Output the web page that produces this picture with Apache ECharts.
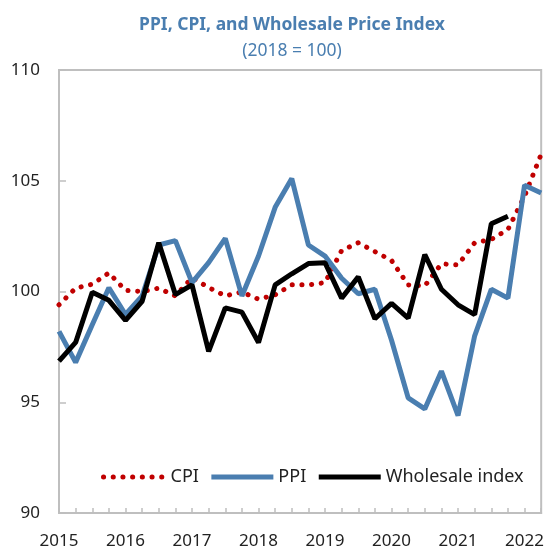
<!DOCTYPE html>
<html>
<head>
<meta charset="utf-8">
<script src="https://cdn.jsdelivr.net/npm/echarts@6/dist/echarts.min.js"></script>
<style>
html,body{margin:0;padding:0;background:#fff;}
#chart{width:547px;height:550px;}
</style>
</head>
<body>
<div id="chart"></div>
<script>
// Quarterly observations, 2015Q1 .. 2022Q2 (index 0..29)
const quarterIndex = [0,1,2,3,4,5,6,7,8,9,10,11,12,13,14,15,16,17,18,19,20,21,22,23,24,25,26,27,28,29];
const yearLabels = ['2015','2016','2017','2018','2019','2020','2021','2022'];
const cpi = [99.4,100.15,100.33,100.84,100.05,100.0,100.15,99.8,100.62,100.18,99.8,99.98,99.65,99.85,100.3,100.3,100.4,101.85,102.2,101.8,101.4,100.3,100.25,101.25,101.2,102.2,102.35,102.8,104.3,106.2];
const ppi = [98.2,96.8,98.5,100.17,98.96,99.8,102.1,102.3,100.4,101.3,102.4,99.8,101.6,103.8,105.1,102.1,101.6,100.6,99.9,100.1,97.8,95.2,94.7,96.4,94.4,98.0,100.1,99.7,104.8,104.45];
const wholesale = [96.86,97.7,99.97,99.6,98.7,99.56,102.2,99.86,100.3,97.3,99.26,99.07,97.7,100.3,100.8,101.26,101.3,99.7,100.66,98.77,99.46,98.8,101.67,100.1,99.4,98.96,103.06,103.4,null,null];
const yTicks = [90,95,100,105,110];

const pair = arr => quarterIndex.map((q,i) => [q, arr[i]]);

const FONT = '"Noto Sans", "DejaVu Sans", sans-serif';
const chart = echarts.init(document.getElementById('chart'), null, {renderer:'canvas'});
chart.setOption({
  animation: false,
  backgroundColor: '#ffffff',
  title: [
    {text: 'PPI, CPI, and Wholesale Price Index', left: 287, top: 11, textAlign: 'center',
     textStyle: {fontFamily: FONT, fontSize: 17.5, fontWeight: 'bold', color: '#4A7EB0'}},
    {text: '(2018 = 100)', left: 287, top: 37, textAlign: 'center',
     textStyle: {fontFamily: FONT, fontSize: 17.5, fontWeight: 'normal', color: '#4A7EB0'}}
  ],
  grid: {left: 59, right: 4, top: 70, bottom: 36, show: true, borderColor: '#BFBFBF', borderWidth: 2, backgroundColor: 'transparent'},
  legend: {
    left: 96, top: 463, itemWidth: 62, itemHeight: 14, itemGap: 10,
    textStyle: {fontFamily: FONT, fontSize: 18, color: '#222'},
    itemStyle: {opacity: 0, borderWidth: 0},
    lineStyle: {width: 5},
    data: ['CPI','PPI','Wholesale index']
  },
  xAxis: {
    type: 'value', min: 0, max: 29, interval: 1,
    axisLine: {show: true, lineStyle: {color: '#BFBFBF', width: 2}},
    axisTick: {show: true, inside: true, length: 5, lineStyle: {color: '#BFBFBF', width: 1.5}},
    splitLine: {show: false},
    axisLabel: {
      margin: 20, fontFamily: FONT, fontSize: 17, color: '#222',
      formatter: v => (v % 4 === 0 ? yearLabels[v / 4] : ''),
      showMinLabel: true, showMaxLabel: true, hideOverlap: false
    }
  },
  yAxis: {
    type: 'value', min: yTicks[0], max: yTicks[yTicks.length-1], interval: 5,
    axisLine: {show: true, lineStyle: {color: '#BFBFBF', width: 2}},
    axisTick: {show: true, inside: true, length: 7, lineStyle: {color: '#BFBFBF', width: 1.5}},
    splitLine: {show: false},
    axisLabel: {margin: 19, fontFamily: FONT, fontSize: 17, color: '#222'}
  },
  series: [
    {name: 'CPI', type: 'line', data: pair(cpi), symbol: 'none',
     lineStyle: {color: '#C00000', width: 5, type: [0.1, 9.6], cap: 'round'},
     itemStyle: {color: '#C00000'}},
    {name: 'PPI', type: 'line', data: pair(ppi), symbol: 'none',
     lineStyle: {color: '#4A7EB0', width: 5},
     itemStyle: {color: '#4A7EB0'}},
    {name: 'Wholesale index', type: 'line', data: pair(wholesale), symbol: 'none', connectNulls: false,
     lineStyle: {color: '#000000', width: 5},
     itemStyle: {color: '#000000'}}
  ]
});
</script>
</body>
</html>
